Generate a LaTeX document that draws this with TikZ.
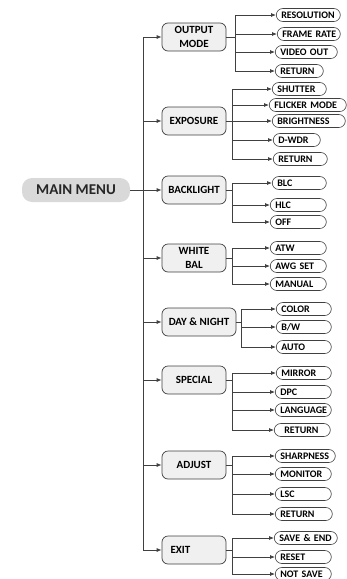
\documentclass[tikz,border=0pt]{standalone}
\usepackage{fontspec}
\setmainfont{Carlito}
\usetikzlibrary{arrows.meta,calc}
\definecolor{MMGray}{HTML}{D9D9D9}
\definecolor{SubGray}{HTML}{F0F0F0}
\definecolor{LineGray}{HTML}{404040}
\hyphenpenalty=10000

\begin{document}
\begin{tikzpicture}[x=1pt,y=-1pt,
        line/.style={draw=LineGray,line width=0.75pt},
        arr/.style={line,-{Latex[length=5pt,width=4pt]}},
        mainbox/.style={fill=MMGray,rounded corners=10pt,minimum width=108pt,minimum height=24pt,font=\bfseries\fontsize{15}{17}\selectfont,text=black!85},
        menubox/.style={draw=LineGray,fill=SubGray,line width=0.7pt,rounded corners=6pt,minimum width=64pt,minimum height=28pt,align=center,font=\bfseries\fontsize{11}{14}\selectfont},
        leaf/.style={draw=LineGray,fill=white,line width=0.6pt,rounded corners=6.5pt,anchor=west,minimum height=13pt,inner ysep=0pt,inner xsep=5pt,text width=#1,align=left,text height=6.6pt,text depth=0pt,font=\bfseries\fontsize{10}{11}\selectfont}]
        \useasboundingbox (0,0) rectangle (347,579);
        \node[mainbox] (main) at (76,190) {MAIN MENU};
        % second level
        \node[menubox] (out) at (194,37) {OUTPUT\\MODE};
        \node[menubox] (expo) at (194,121) {EXPOSURE};
        \node[menubox] (back) at (194,190) {BACKLIGHT};
        \node[menubox] (white) at (194,258) {WHITE\\BAL};
        \node[menubox,minimum width=74pt] (day) at (199,322) {DAY \& NIGHT};
        \node[menubox] (spec) at (194,380) {SPECIAL};
        \node[menubox] (adj) at (194,465) {ADJUST};
        \node[menubox,text width=47pt,align=left] (exit) at (194,550) {EXIT};
        % third level
        \node[leaf=54pt] (o1) at (276,15) {RESOLUTION};
        \node[leaf=53pt] (o2) at (277,34) {FRAME~RATE};
        \node[leaf=52pt] (o3) at (275,52) {VIDEO~OUT};
        \node[leaf=38pt] (o4) at (275,71) {RETURN};
        \node[leaf=44pt] (e1) at (272,89) {SHUTTER};
        \node[leaf=67pt] (e2) at (269,105) {FLICKER~MODE};
        \node[leaf=63pt] (e3) at (272,121) {BRIGHTNESS};
        \node[leaf=37pt] (e4) at (273,140) {D-WDR};
        \node[leaf=44pt] (e5) at (273,159) {RETURN};
        \node[leaf=44pt] (b1) at (272,183) {BLC};
        \node[leaf=46pt] (b2) at (270,205) {HLC};
        \node[leaf=46pt] (b3) at (270,222) {OFF};
        \node[leaf=46pt] (w1) at (270,248) {ATW};
        \node[leaf=46pt] (w2) at (270,266) {AWG~SET};
        \node[leaf=46pt] (w3) at (270,284) {MANUAL};
        \node[leaf=45pt] (d1) at (276,309) {COLOR};
        \node[leaf=45pt] (d2) at (276,327) {B/W};
        \node[leaf=45pt] (d3) at (276,347) {AUTO};
        \node[leaf=45pt] (s1) at (276,373) {MIRROR};
        \node[leaf=46pt] (s2) at (275,392) {DPC};
        \node[leaf=46pt] (s3) at (275,410) {LANGUAGE};
        \node[leaf=46pt] (s4) at (274,430) {\hspace{5pt}RETURN};
        \node[leaf=50pt] (a1) at (275,456) {SHARPNESS};
        \node[leaf=46pt] (a2) at (275,474) {MONITOR};
        \node[leaf=46pt] (a3) at (275,494) {LSC};
        \node[leaf=47pt] (a4) at (275,514) {RETURN};
        \node[leaf=53pt] (x1) at (274,538) {SAVE~\&~END};
        \node[leaf=46pt] (x2) at (275,557) {RESET};
        \node[leaf=46pt] (x3) at (275,574) {NOT~SAVE};
        % trunk
        \coordinate (tr) at (143,0);
        \draw[line] (main.east) -- (tr |- main.east);
        \draw[line] (tr |- out.west) -- (tr |- exit.west);
        \foreach \n in {out,expo,back,white,day,spec,adj,exit}
            \draw[arr] (tr |- \n.west) -- (\n.west);
        % branches
        \coordinate (ob) at (235,0);
        \coordinate (eb) at (232,0);
        \coordinate (bb) at (232,0);
        \coordinate (wb) at (232,0);
        \coordinate (db) at (241,0);
        \coordinate (sb) at (232,0);
        \coordinate (ab) at (232,0);
        \coordinate (xb) at (232,0);
        \foreach \grp/\br/\first/\last/\kids in {out/ob/o1/o4/{o1,o2,o3,o4},expo/eb/e1/e5/{e1,e2,e3,e4,e5},back/bb/b1/b3/{b1,b2,b3},white/wb/w1/w3/{w1,w2,w3},day/db/d1/d3/{d1,d2,d3},spec/sb/s1/s4/{s1,s2,s3,s4},adj/ab/a1/a4/{a1,a2,a3,a4},exit/xb/x1/x3/{x1,x2,x3}}{
            \draw[line] (\grp.east) -- (\br |- \grp.east);
            \draw[line] (\br |- \first.west) -- (\br |- \last.west);
            \foreach \k in \kids
                \draw[arr] (\br |- \k.west) -- (\k.west);
        }
\end{tikzpicture}
\end{document}
